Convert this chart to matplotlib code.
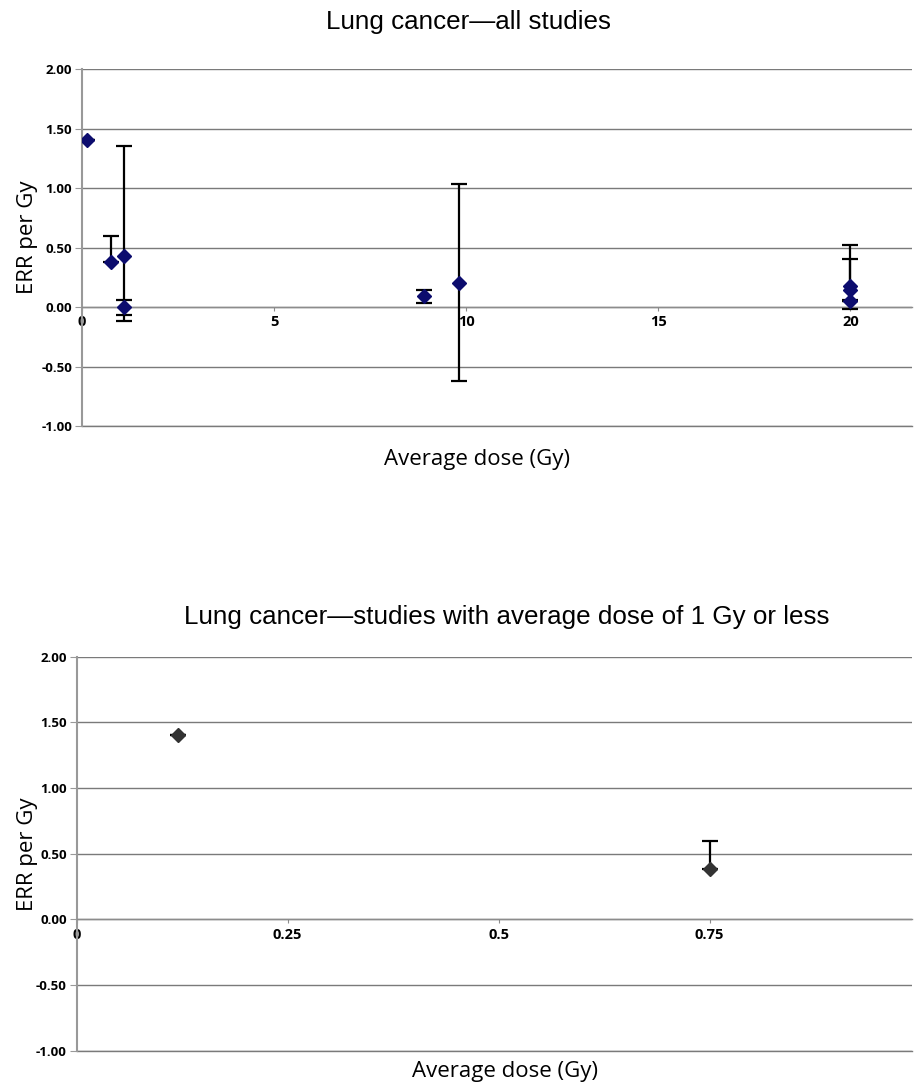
import numpy as np
import matplotlib
matplotlib.use('Agg')
import matplotlib.pyplot as plt

plt.rcParams['font.family'] = ['Open Sans', 'DejaVu Sans']

# all studies: average dose, ERR per Gy, lower / upper CI
all_dose = [0.12, 0.75, 1.1, 1.1, 8.9, 9.8, 20.0, 20.0, 20.0]
all_err = [1.40, 0.38, 0.43, 0.00, 0.09, 0.20, 0.18, 0.14, 0.05]
all_lo = [1.40, 0.38, -0.12, -0.07, 0.03, -0.62, -0.02, 0.06, 0.05]
all_hi = [1.40, 0.60, 1.35, 0.06, 0.14, 1.03, 0.52, 0.40, 0.05]

# studies with average dose <= 1 Gy
low_dose = [0.12, 0.75]
low_err = [1.40, 0.38]
low_lo = [1.40, 0.38]
low_hi = [1.40, 0.60]

y_ticks = [-1.0, -0.5, 0.0, 0.5, 1.0, 1.5, 2.0]
top_xticks = [0, 5, 10, 15, 20]
bot_xticks = [0, 0.25, 0.5, 0.75]
bot_xlabels = ['0', '0.25', '0.5', '0.75']

fig = plt.figure(figsize=(9.14, 10.84), dpi=100)


def style_axes(ax):
    for s in ['top', 'right']:
        ax.spines[s].set_visible(False)
    ax.spines['left'].set_color('#999999')
    ax.spines['left'].set_linewidth(1.5)
    ax.spines['bottom'].set_position(('data', 0))
    ax.spines['bottom'].set_color('#8c8c8c')
    ax.spines['bottom'].set_linewidth(1.0)
    ax.set_ylim(-1.0, 2.0)
    ax.set_yticks(y_ticks)
    ax.set_yticklabels(['%.2f' % v for v in y_ticks])
    ax.yaxis.grid(True, color='#7a7a7a', linewidth=1.0)
    # gridline at the lower edge
    ax.axhline(-1.0, color='#7a7a7a', linewidth=1.0, clip_on=False, zorder=0.5)
    ax.set_axisbelow(True)
    ax.tick_params(axis='y', direction='out', length=5, color='#999999',
                   labelsize=9.5, pad=2)
    ax.tick_params(axis='x', direction='out', length=3, color='#8c8c8c',
                   labelsize=10.5, pad=3)
    for lab in ax.get_yticklabels() + ax.get_xticklabels():
        lab.set_fontweight('bold')


def draw_points(ax, xs, ys, los, his, color):
    for x, y, lo, hi in zip(xs, ys, los, his):
        ax.errorbar(x, y, yerr=[[y - lo], [hi - y]], fmt='none',
                    ecolor='black', elinewidth=1.6, capsize=6, capthick=1.6,
                    zorder=3)
        ax.plot(x, y, 'D', color=color, markersize=7.5, zorder=4)


# top chart
ax1 = fig.add_axes([0.0897, 0.607, 0.908, 0.3293])
draw_points(ax1, all_dose, all_err, all_lo, all_hi, '#0c0c6e')
ax1.set_xlim(0, 21.6)
ax1.set_xticks(top_xticks)
style_axes(ax1)

# bottom chart
ax2 = fig.add_axes([0.0839, 0.0307, 0.914, 0.3635])
draw_points(ax2, low_dose, low_err, low_lo, low_hi, '#333333')
ax2.set_xlim(0, 0.99)
ax2.set_xticks(bot_xticks)
ax2.set_xticklabels(bot_xlabels)
style_axes(ax2)

title_font = ['Liberation Sans', 'DejaVu Sans']
fig.text(468 / 914, 1 - 22 / 1084, 'Lung cancer\u2014all studies',
         ha='center', va='center', fontsize=18.7, family=title_font)
fig.text(507 / 914, 1 - 617 / 1084,
         'Lung cancer\u2014studies with average dose of 1 Gy or less',
         ha='center', va='center', fontsize=18.7, family=title_font)
fig.text(27 / 914, 1 - 237 / 1084, 'ERR per Gy', rotation=90,
         ha='center', va='center', fontsize=16)
fig.text(28 / 914, 1 - 854 / 1084, 'ERR per Gy', rotation=90,
         ha='center', va='center', fontsize=16)
fig.text(477 / 914, 1 - 459 / 1084, 'Average dose (Gy)',
         ha='center', va='center', fontsize=16)
fig.text(505 / 914, 1 - 1071 / 1084, 'Average dose (Gy)',
         ha='center', va='center', fontsize=16)

fig.savefig('out.png', dpi=100)
